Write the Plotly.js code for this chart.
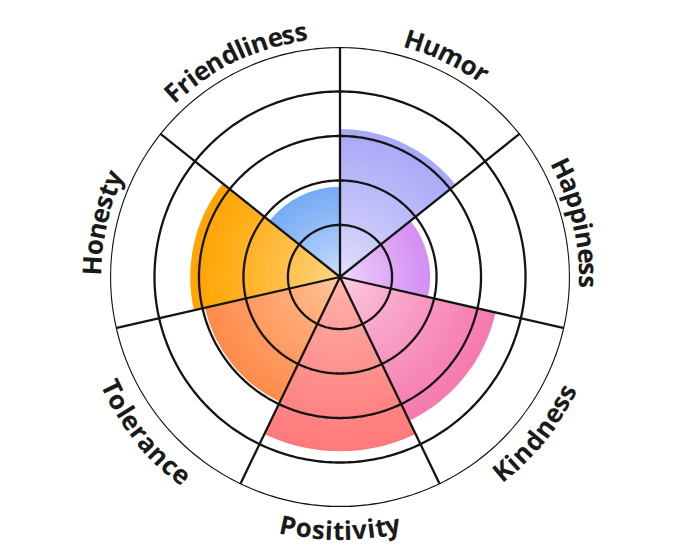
<!DOCTYPE html>
<html><head><meta charset="utf-8">
<script src="https://cdn.plot.ly/plotly-3.0.1.min.js"></script>
<style>html,body{margin:0;padding:0;background:#fff}</style>
</head><body><div id="chart" style="width:680px;height:557px"></div>
<script>
// ---- data ----
const categories = ['Humor','Happiness','Kindness','Positivity','Tolerance','Honesty','Friendliness'];
const values = [3.17, 1.87, 3.43, 3.76, 2.96, 3.21, 1.87];
const edgeColors = ['#a9a9f7','#d38ff2','#f57aae','#ff7b7b','#ff8c4c','#ffa400','#76acf5'];
const centerColors = ['#e6e2fd','#f3dcfd','#fdd0e4','#ffb8b0','#ffc9a0','#ffd88a','#d2e2fb'];
const gridLevels = [1,2,3,4,5];
const radialMin = -0.17;
const radialMax = 5;

// ---- helpers ----
function hex2rgb(h){h=h.replace('#','');return [0,2,4].map(i=>parseInt(h.substr(i,2),16));}
function mix(c1,c2,t){const a=hex2rgb(c1),b=hex2rgb(c2);return 'rgb('+a.map((v,i)=>Math.round(v+(b[i]-v)*t)).join(',')+')';}

const n = categories.length;
const step = 360/n;
const thetaCenters = categories.map((c,i)=>i*step+step/2);
const traces = [];

// gradient bars: concentric layers (from the axis origin) drawn from outer to inner
const LAYERS = 24;
for(let k=LAYERS;k>=1;k--){
  const t = Math.pow((k-1)/(LAYERS-1),0.75);
  traces.push({
    type:'barpolar',
    theta: thetaCenters,
    base: categories.map(()=>radialMin),
    r: values.map(v=>(v-radialMin)*k/LAYERS),
    width: categories.map(()=>step),
    marker:{color: categories.map((c,i)=>mix(centerColors[i],edgeColors[i],t)),
            line:{width: k===LAYERS?1.2:0, color:'#ffffff'}},
    hoverinfo:'skip', showlegend:false
  });
}

// grid rings on top
const ringTheta = [];
for(let a=0;a<=360;a+=1) ringTheta.push(a);
gridLevels.forEach(lv=>{
  traces.push({type:'scatterpolar',mode:'lines',theta:ringTheta,r:ringTheta.map(()=>lv),
    line:{color:'#141414',width:2.3},hoverinfo:'skip',showlegend:false});
});
// spokes at category boundaries
categories.forEach((c,i)=>{
  traces.push({type:'scatterpolar',mode:'lines',theta:[i*step,i*step],r:[radialMin,radialMax],
    line:{color:'#141414',width:2.3},hoverinfo:'skip',showlegend:false});
});

// ---- curved labels via per-character annotations ----
const W = 460; // polar square size in px
const fontSize = 26;
const fontFamily = '"Open Sans", "DejaVu Sans", sans-serif';
const ctx = document.createElement('canvas').getContext('2d');
ctx.font = 'bold '+fontSize+'px "Open Sans"';
const annotations = [];
categories.forEach((lab,i)=>{
  const a0 = thetaCenters[i]; // compass angle, clockwise from top
  const aNorm = ((a0%360)+360)%360;
  const upper = (aNorm<90 || aNorm>270);
  const Rc = upper ? 249 : 253;
  const chars = lab.split('');
  const widths = chars.map(ch=>ctx.measureText(ch).width);
  const total = widths.reduce((s,w)=>s+w,0);
  let cum = -total/2;
  chars.forEach((ch,j)=>{
    const s = cum + widths[j]/2;
    cum += widths[j];
    const a = upper ? a0 + s/Rc*180/Math.PI : a0 - s/Rc*180/Math.PI;
    const rad = a*Math.PI/180;
    annotations.push({
      xref:'paper',yref:'paper',
      x:0.5+Rc*Math.sin(rad)/W, y:0.5+Rc*Math.cos(rad)/W,
      text:'<b>'+ch+'</b>', showarrow:false, xanchor:'center', yanchor:'middle',
      textangle: upper ? a : a-180,
      font:{family:fontFamily,size:fontSize,color:'#1a1a1a'}
    });
  });
});

const layout = {
  width:680, height:557,
  margin:{l:110,r:110,t:47,b:50,pad:0},
  paper_bgcolor:'#ffffff',
  showlegend:false,
  polar:{
    domain:{x:[0,1],y:[0,1]},
    bgcolor:'#ffffff',
    barmode:'overlay',
    radialaxis:{range:[radialMin,radialMax],showgrid:false,showline:false,showticklabels:false,ticks:''},
    angularaxis:{type:'linear',rotation:90,direction:'clockwise',showgrid:false,showline:false,showticklabels:false,ticks:''}
  },
  annotations: annotations
};
Plotly.newPlot('chart',traces,layout,{displayModeBar:false,staticPlot:true});
</script></body></html>
